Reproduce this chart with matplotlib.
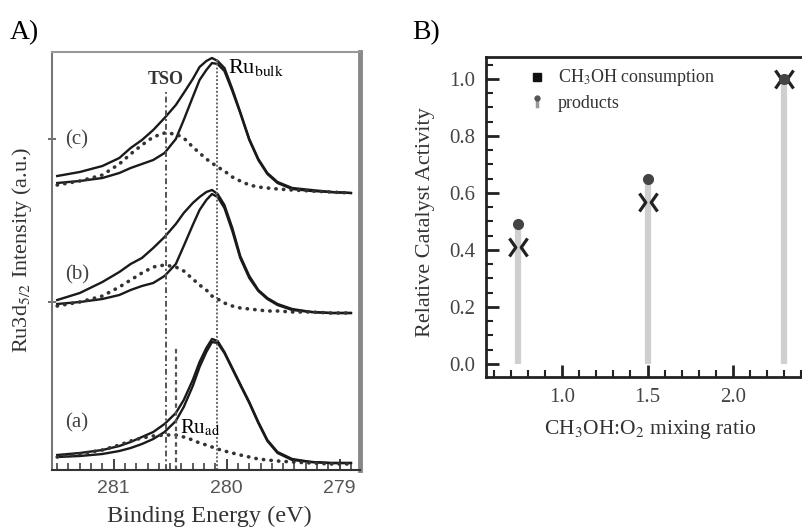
import matplotlib
matplotlib.use('Agg')
import matplotlib.pyplot as plt
from matplotlib.path import Path
from matplotlib.ticker import MultipleLocator, FormatStrFormatter

plt.rcParams['font.family'] = ['Liberation Serif', 'DejaVu Serif']
plt.rcParams['mathtext.fontset'] = 'stix'

# --- A) Ru3d5/2 spectra, binding energy grid (eV) ---
be = [281.5, 281.3, 281.1, 280.95, 280.85, 280.75, 280.65, 280.55, 280.45, 280.38,
      280.3, 280.24, 280.18, 280.13, 280.08, 280.02, 279.95, 279.88, 279.8, 279.72,
      279.64, 279.55, 279.42, 279.25, 279.08, 278.9]

# intensities (a.u., stacked with offsets)
c_total = [294, 298, 304, 312, 322, 330, 340, 352, 365, 377, 391, 403, 409, 412, 409,
           402, 381, 358, 331, 311, 297, 288, 282, 280, 278, 277]
c_bulk = [287, 289, 292, 297, 302, 306, 310, 317, 331, 350, 373, 390, 400, 407, 406,
          399, 379, 357, 330, 310, 296, 287, 281, 279, 278, 277]
c_tso = [285, 289, 295, 306, 316, 325, 333, 337, 336, 332, 323, 317, 311, 307, 303,
         299, 293, 289, 285, 283, 282, 281, 280, 279, 278, 277]

b_total = [170, 177, 188, 198, 206, 212, 222, 233, 246, 257, 267, 273, 278, 280, 276,
           265, 242, 214, 194, 180, 172, 166, 161, 158, 157, 157]
b_bulk = [166, 168, 171, 175, 180, 184, 187, 194, 206, 224, 245, 260, 270, 276, 273,
          262, 239, 212, 192, 179, 171, 165, 160, 158, 157, 157]
b_tso = [164, 168, 174, 183, 190, 197, 203, 205, 203, 199, 191, 185, 180, 174, 171,
         167, 164, 162, 161, 160, 159, 159, 158, 158, 157, 157]

a_total = [15, 17, 20, 24, 28, 33, 38, 46, 57, 70, 90, 108, 122, 131, 129, 118, 102,
           86, 68, 48, 30, 18, 11, 8, 7, 7]
a_bulk = [13, 14, 16, 19, 22, 26, 31, 38, 49, 63, 84, 103, 118, 128, 127, 117, 101,
          85, 67, 47, 29, 17, 10, 8, 7, 7]
a_ad = [13, 16, 20, 25, 29, 32, 34, 35, 35, 33, 30, 27, 25, 23, 21, 19, 17, 15, 13,
        11, 10, 9, 8, 7, 6, 6]

be_bulk, be_tso, be_ad = 280.09, 280.54, 280.45

# --- B) catalyst activity ---
ratio = [0.74, 1.5, 2.3]
consumption = [0.41, 0.57, 1.0]
products = [0.49, 0.65, 1.0]

fig = plt.figure(figsize=(8.03, 5.28), dpi=100)

# ---------------- panel A ----------------
axA = fig.add_axes([52 / 803, 58 / 528, 308 / 803, 418 / 528])
solid = dict(color='#1a1a1a', lw=1.7)
dots = dict(color='#333333', lw=2.6, linestyle=(0, (0.1, 2.0)),
            dash_capstyle='round')
for tot, bulk, comp in [(c_total, c_bulk, c_tso), (b_total, b_bulk, b_tso),
                        (a_total, a_bulk, a_ad)]:
    axA.plot(be, tot, **solid)
    axA.plot(be, bulk, **solid)
    axA.plot(be, comp, **dots)

axA.vlines(be_bulk, 0, 412, colors='#666666', lw=1.4, linestyles=[(0, (1, 1))])
axA.vlines(be_tso, 0, 378, colors='#555555', lw=1.4, linestyles=[(0, (3, 1.5, 1, 1.5))])
axA.vlines(be_ad, 0, 123, colors='#555555', lw=1.6, linestyles=[(0, (2, 1.5))])

axA.set_xlim(281.546, 278.82)
axA.set_ylim(0, 418)
axA.text(be_tso, 390, 'TSO', ha='center', va='center', fontsize=13,
         fontweight='bold', color='#333333')
axA.text(279.99, 403, r'Ru$_{\mathrm{bulk}}$', ha='left', va='center', fontsize=16)
axA.text(280.41, 42, r'Ru$_{\mathrm{ad}}$', ha='left', va='center', fontsize=15)
for lab, yy in [('(c)', 330), ('(b)', 195), ('(a)', 47)]:
    axA.text(281.43, yy, lab, ha='left', va='center', fontsize=15, color='#444444')

axA.set_xticks([281, 280, 279])
axA.xaxis.set_minor_locator(MultipleLocator(0.1))
axA.set_yticks([168, 331])
axA.set_yticklabels([])
axA.tick_params(axis='x', which='major', direction='in', length=8, width=1.3,
                color='#333333', labelsize=14, labelcolor='#555555', pad=7)
axA.tick_params(axis='x', which='minor', direction='in', length=5, width=1.1,
                color='#333333')
axA.tick_params(axis='y', direction='inout', length=6, width=1.2, color='#555555')
for lab in axA.get_xticklabels():
    lab.set_family(['Liberation Sans', 'DejaVu Sans'])
axA.spines['left'].set(color='#777777', lw=1.5)
axA.spines['top'].set(color='#999999', lw=1.5)
axA.spines['right'].set(color='#888888', lw=3.5)
axA.spines['bottom'].set(color='#333333', lw=1.5)
axA.set_xlabel('Binding Energy (eV)', fontsize=17.5, color='#333333')
axA.xaxis.set_label_coords(0.51, -0.085)
axA.set_ylabel(r'Ru3d$_{5/2}$ Intensity (a.u.)', fontsize=16, color='#333333')
axA.yaxis.set_label_coords(-0.057, 0.526)

# ---------------- panel B ----------------
axB = fig.add_axes([486 / 803, 151 / 528, 317 / 803, 320 / 528])
axB.vlines(ratio, 0, products, colors='#cfcfcf', lw=4.5, zorder=1)

# four spokes (two chevrons) for the consumption marker
spokes = Path([(-1, 1), (-0.3, 0), (-1, -1), (1, 1), (0.3, 0), (1, -1)],
              [Path.MOVETO, Path.LINETO, Path.LINETO,
               Path.MOVETO, Path.LINETO, Path.LINETO])
axB.plot(ratio, consumption, linestyle='none', marker=spokes, ms=13, mew=2.3,
         mec='#222222', mfc='none', zorder=3)
axB.plot(ratio, products, linestyle='none', marker='o', ms=7, color='#444444',
         zorder=4)

axB.set_xlim(0.5556, 2.409)
axB.set_ylim(-0.0456, 1.077)
axB.set_xticks([1.0, 1.5, 2.0])
axB.set_yticks([0.0, 0.2, 0.4, 0.6, 0.8, 1.0])
axB.xaxis.set_minor_locator(MultipleLocator(0.1))
axB.yaxis.set_minor_locator(MultipleLocator(0.05))
axB.tick_params(which='major', direction='in', length=9, width=2, color='#222222',
                labelsize=15, labelcolor='#444444', pad=8)
axB.tick_params(which='minor', direction='in', length=5, width=1.5, color='#222222')
axB.xaxis.set_major_formatter(FormatStrFormatter('%.1f'))
axB.yaxis.set_major_formatter(FormatStrFormatter('%.1f'))
for side in ['left', 'bottom', 'top']:
    axB.spines[side].set(color='#222222', lw=2)
axB.spines['right'].set_visible(False)

# legend drawn by hand
axB.plot([0.161], [0.9375], marker='s', ms=6, color='#111111',
         transform=axB.transAxes, clip_on=False)
axB.plot([0.161, 0.161], [0.846, 0.862], color='#999999', lw=2.5,
         transform=axB.transAxes, clip_on=False)
axB.plot([0.161], [0.872], marker='o', ms=3.5, color='#555555',
         transform=axB.transAxes, clip_on=False)
axB.text(0.227, 0.9375, r'CH$_3$OH consumption', transform=axB.transAxes,
         fontsize=13, va='center', color='#333333')
axB.text(0.227, 0.856, 'products', transform=axB.transAxes,
         fontsize=13, va='center', color='#333333')

axB.set_xlabel(r'CH$_3$OH:O$_2$ mixing ratio', fontsize=15.5, color='#333333')
axB.xaxis.set_label_coords(0.517, -0.128)
axB.set_ylabel('Relative Catalyst Activity', fontsize=16, color='#333333')
axB.yaxis.set_label_coords(-0.162, 0.484)

fig.text(10 / 803, 1 - 33 / 528, 'A)', fontsize=20, va='center', ha='left')
fig.text(412 / 803, 1 - 33 / 528, 'B)', fontsize=20, va='center', ha='left')

fig.savefig('out.png', dpi=100)
